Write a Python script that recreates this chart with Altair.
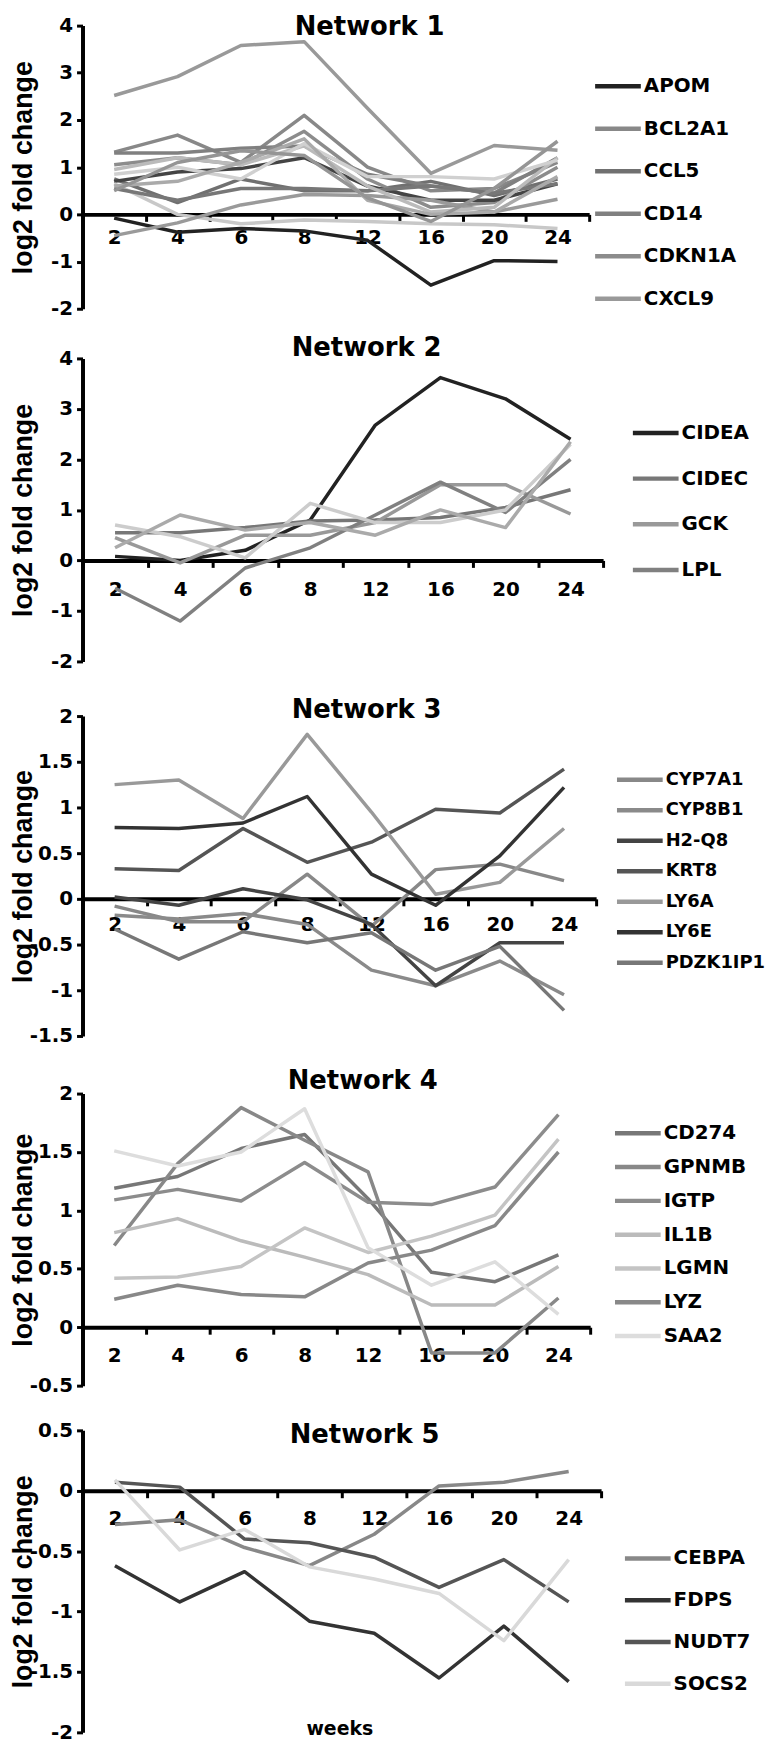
import altair as alt
import pandas as pd

weeks = [2, 4, 6, 8, 12, 16, 20, 24]

# ---------------- Network 1 ----------------
n1_series = {
    "APOM":   [-0.08, -0.38, -0.30, -0.35, -0.55, -1.50, -0.98, -1.00],
    "BCL2A1": [1.32, 1.68, 1.10, 2.10, 1.00, 0.50, 0.55, 1.10],
    "CCL5":   [0.75, 0.25, 0.75, 0.50, 0.50, 0.70, 0.40, 0.75],
    "CD14":   [1.30, 1.30, 1.40, 1.45, 0.85, 0.60, 0.45, 1.20],
    "CDKN1A": [1.05, 1.20, 1.05, 1.76, 0.75, 0.15, 0.25, 1.00],
    "CXCL9":  [2.52, 2.92, 3.58, 3.66, 2.25, 0.87, 1.46, 1.36],
    "unlabelled 7":  [0.70, 0.90, 0.97, 1.20, 0.60, 0.30, 0.30, 0.65],
    "unlabelled 8":  [0.65, 0.00, -0.20, -0.12, -0.15, -0.20, -0.22, -0.30],
    "unlabelled 9":  [-0.45, -0.18, 0.20, 0.42, 0.40, 0.30, 0.05, 0.32],
    "unlabelled 10": [0.55, 0.30, 0.55, 0.55, 0.50, 0.60, 0.45, 0.65],
    "unlabelled 11": [0.95, 1.20, 1.05, 1.45, 0.60, 0.05, 0.15, 1.20],
    "unlabelled 12": [0.85, 1.00, 0.75, 1.50, 0.80, 0.80, 0.75, 1.15],
    "unlabelled 13": [0.60, 0.70, 1.10, 1.60, 0.30, 0.00, 0.05, 0.80],
    "unlabelled 14": [0.50, 1.10, 1.35, 1.25, 0.35, -0.15, 0.55, 1.55],
}
n1_colors = ["#222222", "#888888", "#707070", "#808080", "#8c8c8c", "#999999",
             "#444444", "#c8c8c8", "#9a9a9a", "#777777", "#bbbbbb", "#d0d0d0",
             "#aaaaaa", "#959595"]
n1_legend = ["APOM", "BCL2A1", "CCL5", "CD14", "CDKN1A", "CXCL9"]

# ---------------- Network 2 ----------------
n2_series = {
    "CIDEA": [0.08, 0.00, 0.20, 0.80, 2.68, 3.62, 3.20, 2.40],
    "CIDEC": [0.55, 0.55, 0.65, 0.78, 0.80, 0.85, 1.05, 1.40],
    "GCK":   [0.45, -0.05, 0.50, 0.50, 0.75, 1.50, 1.50, 0.92],
    "LPL":   [-0.55, -1.20, -0.15, 0.25, 0.90, 1.55, 0.95, 2.00],
    "unlabelled 5": [0.70, 0.47, 0.05, 1.13, 0.75, 0.75, 1.00, 2.30],
    "unlabelled 6": [0.25, 0.90, 0.60, 0.75, 0.50, 1.00, 0.65, 2.35],
}
n2_colors = ["#222222", "#777777", "#999999", "#808080", "#cccccc", "#aaaaaa"]
n2_legend = ["CIDEA", "CIDEC", "GCK", "LPL"]

# ---------------- Network 3 ----------------
n3_series = {
    "CYP7A1":   [-0.08, -0.25, -0.25, 0.27, -0.30, 0.32, 0.38, 0.20],
    "CYP8B1":   [-0.18, -0.22, -0.16, -0.28, -0.78, -0.95, -0.68, -1.05],
    "H2-Q8":    [0.02, -0.07, 0.11, -0.01, -0.28, -0.95, -0.48, -0.48],
    "KRT8":     [0.33, 0.31, 0.77, 0.40, 0.62, 0.98, 0.94, 1.42],
    "LY6A":     [1.25, 1.30, 0.88, 1.80, 0.95, 0.05, 0.18, 0.77],
    "LY6E":     [0.78, 0.77, 0.83, 1.12, 0.27, -0.07, 0.47, 1.22],
    "PDZK1IP1": [-0.33, -0.66, -0.36, -0.48, -0.37, -0.78, -0.52, -1.22],
}
n3_colors = ["#888888", "#8a8a8a", "#444444", "#555555", "#999999", "#333333", "#777777"]
n3_legend = list(n3_series)

# ---------------- Network 4 ----------------
n4_series = {
    "CD274": [1.19, 1.29, 1.53, 1.65, 1.10, 0.47, 0.39, 0.62],
    "GPNMB": [0.70, 1.40, 1.88, 1.60, 1.33, -0.22, -0.22, 0.25],
    "IGTP":  [1.09, 1.18, 1.08, 1.41, 1.07, 1.05, 1.20, 1.82],
    "IL1B":  [0.81, 0.93, 0.74, 0.60, 0.45, 0.19, 0.19, 0.52],
    "LGMN":  [0.42, 0.43, 0.52, 0.85, 0.64, 0.78, 0.96, 1.61],
    "LYZ":   [0.24, 0.36, 0.28, 0.26, 0.55, 0.66, 0.87, 1.50],
    "SAA2":  [1.51, 1.38, 1.50, 1.87, 0.68, 0.36, 0.56, 0.11],
}
n4_colors = ["#777777", "#888888", "#8c8c8c", "#bbbbbb", "#c4c4c4", "#888888", "#dddddd"]
n4_legend = list(n4_series)

# ---------------- Network 5 ----------------
n5_series = {
    "CEBPA": [-0.28, -0.24, -0.47, -0.62, -0.36, 0.04, 0.07, 0.16],
    "FDPS":  [-0.62, -0.92, -0.67, -1.08, -1.18, -1.55, -1.12, -1.58],
    "NUDT7": [0.07, 0.03, -0.40, -0.43, -0.55, -0.80, -0.57, -0.92],
    "SOCS2": [0.09, -0.49, -0.32, -0.63, -0.73, -0.85, -1.24, -0.57],
}
n5_colors = ["#888888", "#333333", "#555555", "#d9d9d9"]
n5_legend = list(n5_series)

TICK_FONT = "DejaVu Sans"
Y_TITLE_FONT = "Liberation Sans"


def panel(title, series, colors, legend_names, ydom, yticks, W, H, rtop, rbot,
          lab_pad, leg_x, leg_y0, leg_dy, title_x, title_y, leg_fs=20, extra_text=None):
    rows = []
    for name, vals in series.items():
        for w, v in zip(weeks, vals):
            rows.append({"gene": name, "week": w, "value": v})
    df = pd.DataFrame(rows)
    names = list(series)
    zero = rbot - (0 - ydom[0]) / (ydom[1] - ydom[0]) * (rbot - rtop)

    color = alt.Color("gene:N", scale=alt.Scale(domain=names, range=colors), legend=None)
    x = alt.X(
        "week:O", bandPosition=0.5,
        scale=alt.Scale(type="band", paddingInner=0, paddingOuter=0),
        axis=alt.Axis(title=None, offset=zero - H, tickBand="extent", domainWidth=4,
                      tickWidth=3, tickSize=7, labelPadding=lab_pad, labelAngle=0),
    )
    y = alt.Y(
        "value:Q",
        scale=alt.Scale(domain=ydom, range=[rbot, rtop], nice=False, zero=False),
        axis=alt.Axis(values=yticks, labelExpr="datum.value + ''", title="log2 fold change",
                      titleX=-59, titleY=(rtop + rbot) / 2, titleAngle=270,
                      titleBaseline="middle", titleAlign="center", titleFont=Y_TITLE_FONT,
                      titleFontSize=27, titleFontWeight="bold", titleColor="black",
                      domainWidth=4, tickWidth=3, tickSize=6, labelPadding=4),
    )
    lines = alt.Chart(df).mark_line(strokeWidth=3.5, strokeJoin="round").encode(
        x=x, y=y, color=color, order=alt.Order("week:Q"))

    leg_df = pd.DataFrame({"gene": legend_names})
    n = len(legend_names)
    leg_y = alt.Y("gene:N", sort=legend_names,
                  scale=alt.Scale(type="point", domain=legend_names,
                                  range=[leg_y0, leg_y0 + leg_dy * (n - 1)], padding=0),
                  axis=None)
    rule = alt.Chart(leg_df).mark_rule(strokeWidth=4.5).encode(
        x=alt.value(leg_x), x2=alt.value(leg_x + 46), y=leg_y, color=color)
    text = alt.Chart(leg_df).mark_text(
        align="left", baseline="middle", font=TICK_FONT, fontSize=leg_fs,
        fontWeight="bold", color="black").encode(
        x=alt.value(leg_x + 49), y=leg_y, text="gene:N")

    tdf = pd.DataFrame({"t": [title]})
    ttl = alt.Chart(tdf).mark_text(
        align="center", baseline="alphabetic", font=TICK_FONT, fontSize=26,
        fontWeight="bold", color="black").encode(
        x=alt.value(title_x), y=alt.value(title_y), text="t:N")

    layers = [lines, rule, text, ttl]
    if extra_text is not None:
        edf = pd.DataFrame({"t": [extra_text[0]]})
        layers.append(alt.Chart(edf).mark_text(
            align="center", baseline="middle", font=TICK_FONT, fontSize=19,
            fontWeight="bold", color="black").encode(
            x=alt.value(extra_text[1]), y=alt.value(extra_text[2]), text="t:N"))
    return alt.layer(*layers).resolve_scale(y="independent").properties(width=W, height=H)


p1 = panel("Network 1", n1_series, n1_colors, n1_legend, [-2, 4], [-2, -1, 0, 1, 2, 3, 4],
           510, 322, 10, 295, 6, 516, 71, 42.8, 289, 19)
p2 = panel("Network 2", n2_series, n2_colors, n2_legend, [-2, 4], [-2, -1, 0, 1, 2, 3, 4],
           524, 360, 23, 328, 12, 554, 98, 46, 286, 21)
p3 = panel("Network 3", n3_series, n3_colors, n3_legend, [-1.5, 2],
           [-1.5, -1, -0.5, 0, 0.5, 1, 1.5, 2],
           517, 375, 23, 345, 9, 538, 87, 30.7, 286, 25, leg_fs=18)
p4 = panel("Network 4", n4_series, n4_colors, n4_legend, [-0.5, 2],
           [-0.5, 0, 0.5, 1, 1.5, 2],
           511, 350, 28, 322, 11, 536, 68, 34, 282, 23)
p5 = panel("Network 5", n5_series, n5_colors, n5_legend, [-2, 0.5],
           [-2, -1.5, -1, -0.5, 0, 0.5],
           522, 330, 17, 321, 11, 546, 146, 42, 284, 30,
           extra_text=("weeks", 259, 318))

chart = alt.vconcat(p1, p2, p3, p4, p5, spacing=0, bounds="flush").resolve_scale(
    x="independent", y="independent", color="independent"
).properties(
    padding={"left": 2, "top": 0, "right": 0, "bottom": 0},
).configure_view(stroke=None).configure_axis(
    labelFont=TICK_FONT, labelFontWeight="bold", labelFontSize=20, labelColor="black",
    domainColor="black", tickColor="black", grid=False,
)

chart.save("out.html", embed_options={"renderer": "svg", "actions": False})
